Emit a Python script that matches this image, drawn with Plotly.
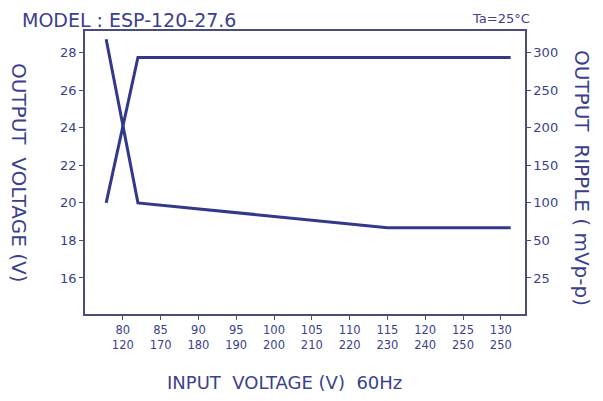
import plotly.graph_objects as go

# Data
vin_voltage = [77.8, 82.0, 131.3]
vout = [20.0, 27.75, 27.75]

vin_ripple = [77.8, 82.0, 115.0, 131.3]
ripple_mv = [318, 100, 67, 67]

x_ticks = [80, 85, 90, 95, 100, 105, 110, 115, 120, 125, 130]
x_ticks_row2 = ["120", "170", "180", "190", "200", "210", "220", "230", "240", "250", "250"]
y_left_ticks = [16, 18, 20, 22, 24, 26, 28]
y_right_tickvals = [0, 50, 100, 150, 200, 250, 300]
y_right_ticktext = ["25", "50", "100", "150", "200", "250", "300"]

NAVY = "#33398a"
TEXT = "#3b3f8e"
AXIS = "#4a4d7a"
FONT = "DejaVu Sans"

W, H = 603, 401
OFF = 8  # page body margin offset
ML, MR, MT, MB = 85 - OFF, W - 525 + OFF, 31 - OFF, H - 314 + OFF

fig = go.Figure()
fig.add_trace(go.Scatter(x=vin_voltage, y=vout, mode="lines",
                         line=dict(color=NAVY, width=3), yaxis="y", showlegend=False))
fig.add_trace(go.Scatter(x=vin_ripple, y=ripple_mv, mode="lines",
                         line=dict(color=NAVY, width=3), yaxis="y2", showlegend=False))

y1_range = [14.08, 29.16]
y2_range = [300 + (y1_range[0] - 28) * 25, 300 + (y1_range[1] - 28) * 25]


def pos(px, py):
    """page pixel -> paper coords"""
    fx, fy = px - OFF, py - OFF
    return (fx - ML) / (W - ML - MR), ((H - fy) - MB) / (H - MT - MB)


def ann(text, px, py, size, angle=0, xanchor="center"):
    x, y = pos(px, py)
    return dict(text=text, x=x, y=y, xref="paper", yref="paper", textangle=angle,
                showarrow=False, xanchor=xanchor, yanchor="middle", borderpad=0,
                font=dict(size=size, color=TEXT, family=FONT))


fig.update_layout(
    width=W, height=H,
    margin=dict(l=ML, r=MR, t=MT, b=MB),
    paper_bgcolor="white", plot_bgcolor="white",
    font=dict(family=FONT, color=TEXT),
    xaxis=dict(range=[75, 133.2], tickvals=x_ticks,
               ticktext=[f"{a}<br>{b}" for a, b in zip(x_ticks, x_ticks_row2)],
               ticks="outside", ticklen=4, tickcolor=AXIS, tickwidth=1,
               showline=True, linecolor=AXIS, linewidth=1.5, mirror=True,
               showgrid=False, zeroline=False,
               tickfont=dict(size=11.5, color=TEXT, family=FONT)),
    yaxis=dict(range=y1_range, tickvals=y_left_ticks,
               ticks="outside", ticklen=4, tickcolor=AXIS,
               showline=True, linecolor=AXIS, linewidth=1.5,
               showgrid=False, zeroline=False,
               tickfont=dict(size=13, color=TEXT, family=FONT)),
    yaxis2=dict(range=y2_range, overlaying="y", side="right",
                tickvals=y_right_tickvals, ticktext=y_right_ticktext,
                ticks="outside", ticklen=4, tickcolor=AXIS,
                showline=True, linecolor=AXIS, linewidth=1.5,
                showgrid=False, zeroline=False,
                tickfont=dict(size=13, color=TEXT, family=FONT)),
    annotations=[
        ann("MODEL : ESP-120-27.6", 21, 20, 19, xanchor="left"),
        ann("Ta=25°C", 531, 19, 13, xanchor="right"),
        ann("OUTPUT  VOLTAGE (V)", 19, 172, 20, angle=90),
        ann("OUTPUT  RIPPLE ( mVp-p)", 582, 178, 20, angle=90),
        ann("INPUT  VOLTAGE (V)  60Hz", 284, 382, 18),
    ],
)

fig.write_html("out.html")
